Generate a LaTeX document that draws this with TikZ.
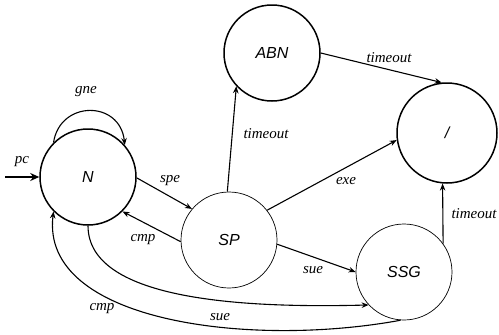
\documentclass[tikz,border=0pt]{standalone}
\usepackage{fontspec}
\setmainfont{Liberation Serif}
\setsansfont{Liberation Sans}
\usetikzlibrary{arrows.meta}
\begin{document}
\begin{tikzpicture}[x=1pt,y=-1pt,
  state/.style={circle,minimum size=96pt,inner sep=0pt,line width=1.5pt,draw,
    font=\sffamily\itshape\fontsize{16}{16}\selectfont},
  lightstate/.style={state,line width=0.7pt},
  trans/.style={line width=1.1pt,-{Stealth[length=7pt,width=5.5pt]}},
  lbl/.style={font=\itshape\fontsize{15}{15}\selectfont,inner sep=0pt}]
\useasboundingbox (0,0) rectangle (499,335);

% states
\node[state]      (N)   at (88,177)  {N};
\node[lightstate] (SP)  at (229,240) {SP};
\node[state]      (ABN) at (272,53)  {ABN};
\node[state, minimum size=100pt] (I) at (447,133) {/};
\node[lightstate] (SSG) at (404,272) {SSG};

% initial arrow
\coordinate (start) at (5,177);
\draw[line width=2.2pt,-{Stealth[length=9pt,width=8pt]}] (start) -- (N.west);
\node[lbl] (lpc) at (22,162) {pc};

% self loop on N
\draw[trans] (N.135) .. controls (60,100) and (120,100) .. (N.41);
\node[lbl] (lgne) at (86,92) {gne};

% transitions out of SP and N
\draw[trans] (N.-1) -- (SP.140);
\node[lbl] (lspe) at (170,181) {spe};

\draw[trans] (SP.182) -- (N.-45);
\node[lbl] (lcmp1) at (143,240) {cmp};

\draw[trans] (SP.92) -- (ABN.223);
\node[lbl] (lto1) at (266,134) {timeout};

\draw[trans] (SP.38) -- (I.188);
\node[lbl] (lexe) at (346,181) {exe};

\draw[trans] (SP.-5) -- (SSG.180);
\node[lbl] (lsue1) at (313,270) {sue};

\draw[trans] (ABN.0) -- (I.96);
\node[lbl] (lto2) at (389,58) {timeout};

\draw[trans] (SSG.36) -- (I.-95);
\node[lbl] (lto3) at (474,214) {timeout};

% long arcs below
\draw[trans] (N.-90) .. controls (88,302) and (250,308) .. (SSG.-137);
\node[lbl] (lsue2) at (220,317) {sue};

\draw[trans] (SSG.-94) .. controls (250,348) and (40,322) .. (N.-135);
\node[lbl] (lcmp2) at (102,309) {cmp};
\end{tikzpicture}
\end{document}
